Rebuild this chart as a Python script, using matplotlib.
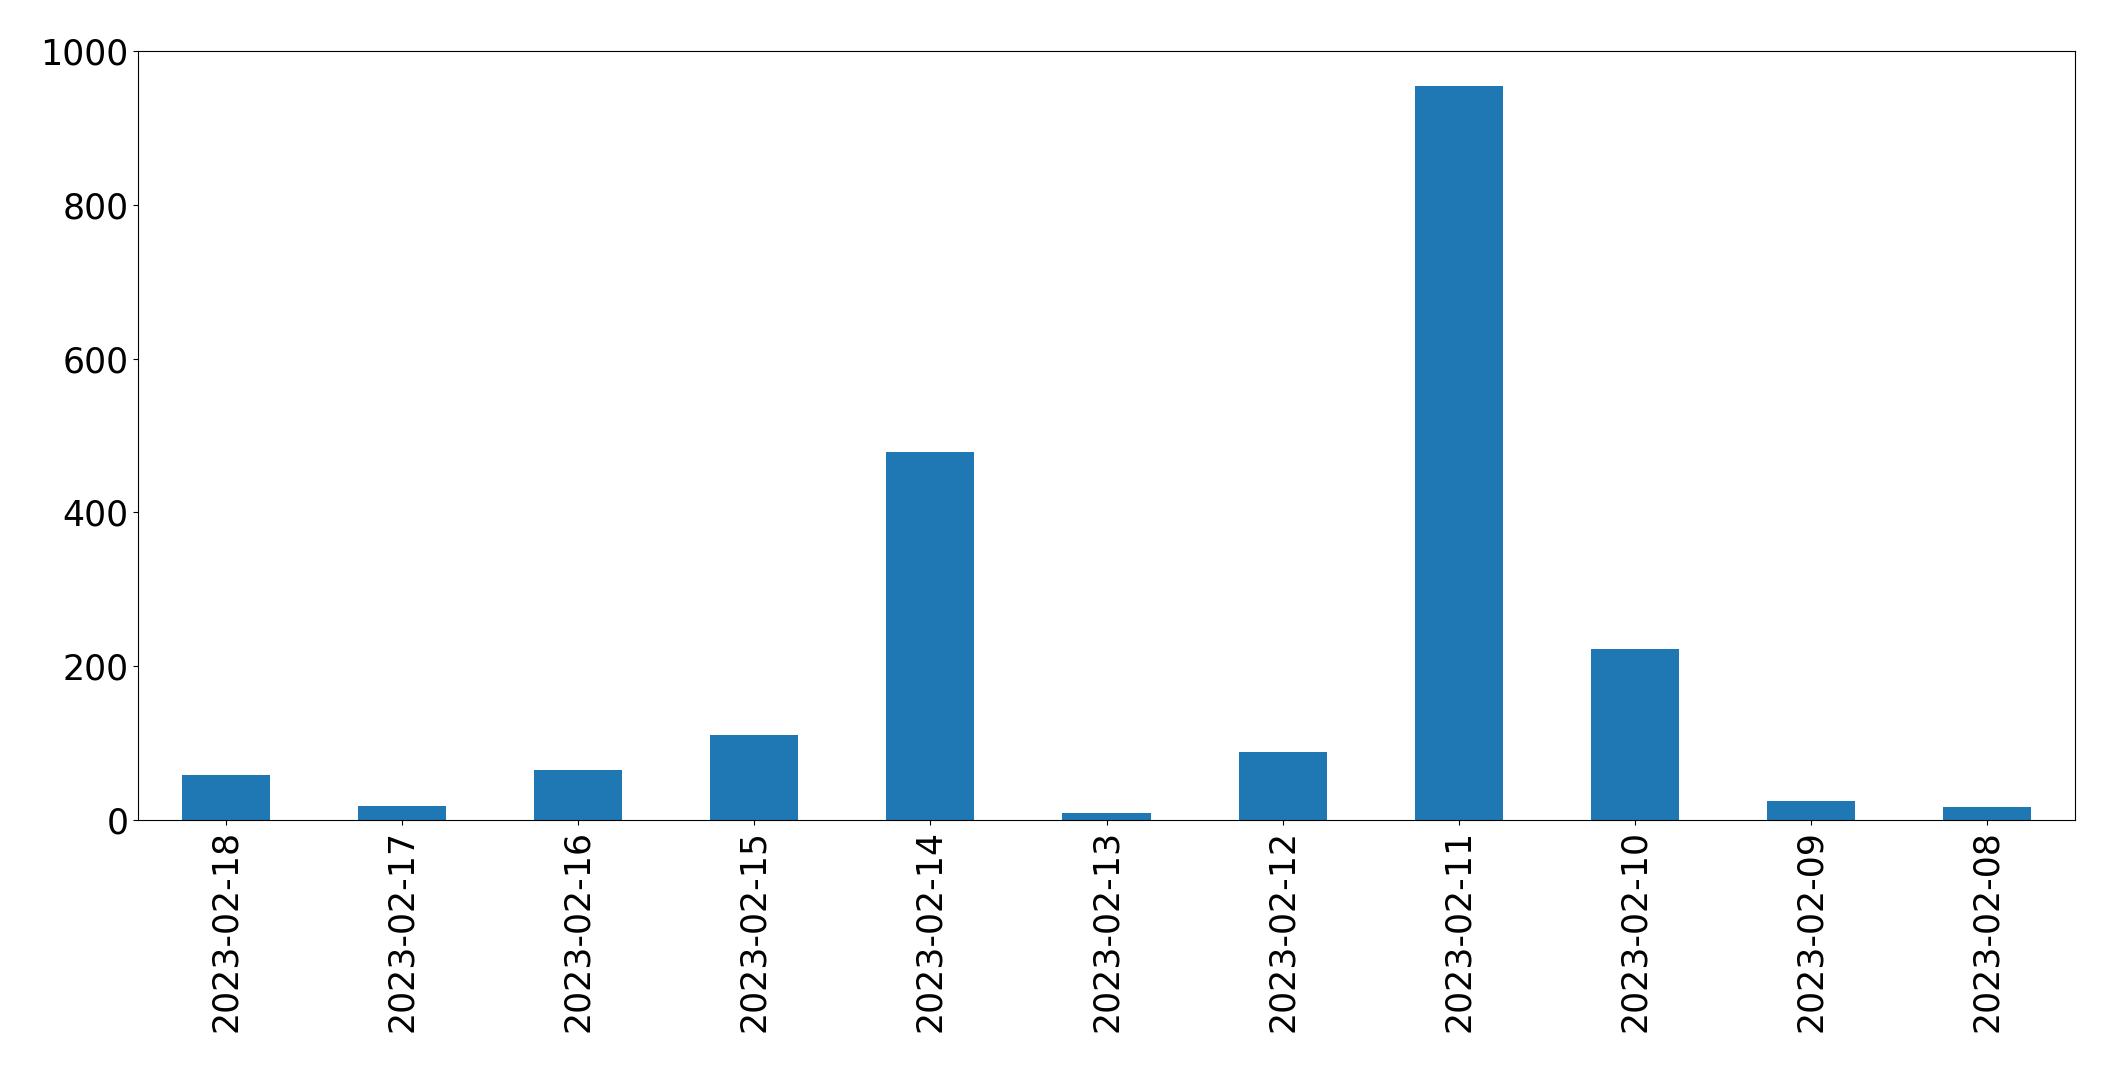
import matplotlib
matplotlib.use("Agg")
import matplotlib.pyplot as plt

dates = ["2023-02-18", "2023-02-17", "2023-02-16", "2023-02-15", "2023-02-14",
         "2023-02-13", "2023-02-12", "2023-02-11", "2023-02-10", "2023-02-09",
         "2023-02-08"]
counts = [58, 18, 65, 111, 479, 9, 88, 955, 222, 25, 17]

fig = plt.figure(figsize=(21.15, 10.73), dpi=100)
ax = fig.add_axes([138/2115, 1 - 820/1073, (2075-138)/2115, (820-51)/1073])
x = list(range(len(dates)))
ax.bar(x, counts, width=0.5, color="#1f77b4")
ax.set_xlim(-0.5, len(dates) - 0.5)
ax.set_ylim(0, 1000)
ax.set_xticks(x)
ax.set_xticklabels(dates, rotation=90)
ax.tick_params(axis="both", labelsize=25)
fig.savefig("out.png", dpi=100)
